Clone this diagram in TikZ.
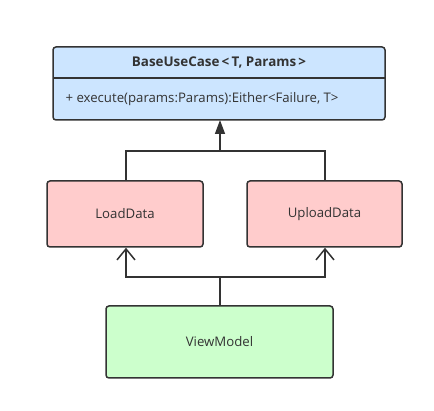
\documentclass[tikz,border=0pt]{standalone}
\usepackage{fontspec}
\setmainfont{Open Sans}
\usetikzlibrary{arrows.meta}
\definecolor{bluefill}{HTML}{CCE5FF}
\definecolor{pinkfill}{HTML}{FFCCCC}
\definecolor{greenfill}{HTML}{CCFFCC}
\definecolor{edge}{HTML}{333333}
\begin{document}
\begin{tikzpicture}[x=1pt,y=-1pt,
  box/.style={draw=edge,line width=1.5pt,rounded corners=3pt},
  lbl/.style={font=\fontsize{13.2}{16}\selectfont,text=edge},
  conn/.style={draw=edge,line width=1.5pt},
  inherit/.style={conn,-{Triangle[length=14pt,width=10pt]}},
  uses/.style={conn,-{Straight Barb[length=11pt,width=18pt,line width=1.5pt]}}]
\useasboundingbox (0,0) rectangle (434,411);
% base class
\draw[box,fill=bluefill] (53,47) rectangle (385,120);
\draw[edge,line width=1.5pt] (53,78) -- (385,78);
\node[lbl,font=\fontsize{13.4}{16}\selectfont\bfseries] (title) at (219,62.5) {BaseUseCase\,<\,T, Params\,>};
\node[lbl,anchor=west] (op) at (62,99) {+ execute(params:Params):Either<Failure, T>};
\coordinate (basebot) at (220,120);
% subclasses
\node[box,fill=pinkfill,minimum width=156pt,minimum height=66pt,lbl] (load) at (125,214) {LoadData};
\node[box,fill=pinkfill,minimum width=155pt,minimum height=66pt,lbl] (upload) at (324.5,214) {UploadData};
\node[box,fill=greenfill,minimum width=227pt,minimum height=72pt,lbl] (vm) at (219.5,342) {ViewModel};
% inheritance connectors
\coordinate (jt) at (220,151);
\draw[conn] (load.north -| 126,0) |- (jt) -| (upload.north -| 325,0);
\draw[inherit] (jt) -- (basebot);
% usage connectors
\coordinate (jb) at (220,277);
\draw[conn] (vm.north -| jb) -- (jb);
\draw[uses] (jb) -| (load.south -| 126,0);
\draw[uses] (jb) -| (upload.south -| 325,0);
\end{tikzpicture}
\end{document}
